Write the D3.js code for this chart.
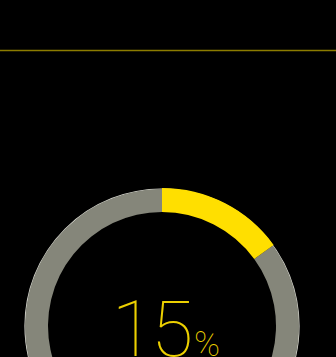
<!DOCTYPE html>
<html>
<head>
<meta charset="utf-8">
<script src="https://cdn.jsdelivr.net/npm/d3@7"></script>
<style>
  html, body { margin: 0; padding: 0; background: #000; }
  svg { display: block; }
</style>
</head>
<body>
<svg id="chart" width="336" height="357"></svg>
<script>
// Share of completion shown in the gauge
const categories = ["Complete", "Remaining"];
const values = [15, 85];
const valueLabel = "15";
const unitLabel = "%";

const W = 336, H = 357;
const cx = 162, cy = 326;
const outerR = 137, innerR = 114;

const svg = d3.select("#chart");
svg.append("rect").attr("width", W).attr("height", H).attr("fill", "#000");

// Header rule
const x = d3.scaleLinear().domain([0, 1]).range([0, W]);
svg.append("line")
  .attr("x1", x(0)).attr("x2", x(1))
  .attr("y1", 50.5).attr("y2", 50.5)
  .attr("stroke", "#8c7c00")
  .attr("stroke-width", 1.5);

const colors = d3.scaleOrdinal().domain(categories).range(["#ffdf00", "#85867a"]);

const pie = d3.pie().sort(null).value(d => d.value);
const arcs = pie(categories.map((c, i) => ({ cat: c, value: values[i] })));

const g = svg.append("g").attr("transform", `translate(${cx},${cy})`);

const arc = d3.arc().innerRadius(innerR).outerRadius(outerR);
const arcWide = d3.arc().innerRadius(innerR).outerRadius(outerR + 1);

// Track outline on the outer edge of the remaining part
g.append("circle")
  .attr("r", outerR)
  .attr("fill", "none")
  .attr("stroke", "#d8d8d0")
  .attr("stroke-width", 1.2);

g.selectAll("path.slice")
  .data(arcs.slice().reverse())
  .join("path")
  .attr("class", "slice")
  .attr("d", d => d.data.cat === "Complete" ? arcWide(d) : arc(d))
  .attr("fill", d => colors(d.data.cat));

// Central value
const t = g.append("text")
  .attr("x", 4)
  .attr("y", 30)
  .attr("text-anchor", "middle")
  .attr("fill", "#ecd000")
  .style("font-family", "Roboto, 'Helvetica Neue', sans-serif")
  .style("font-weight", 100);
t.append("tspan").style("font-size", "77px").style("letter-spacing", "-3px").text(valueLabel);
t.append("tspan").attr("dx", 4).style("font-size", "35px").text(unitLabel);
</script>
</body>
</html>
